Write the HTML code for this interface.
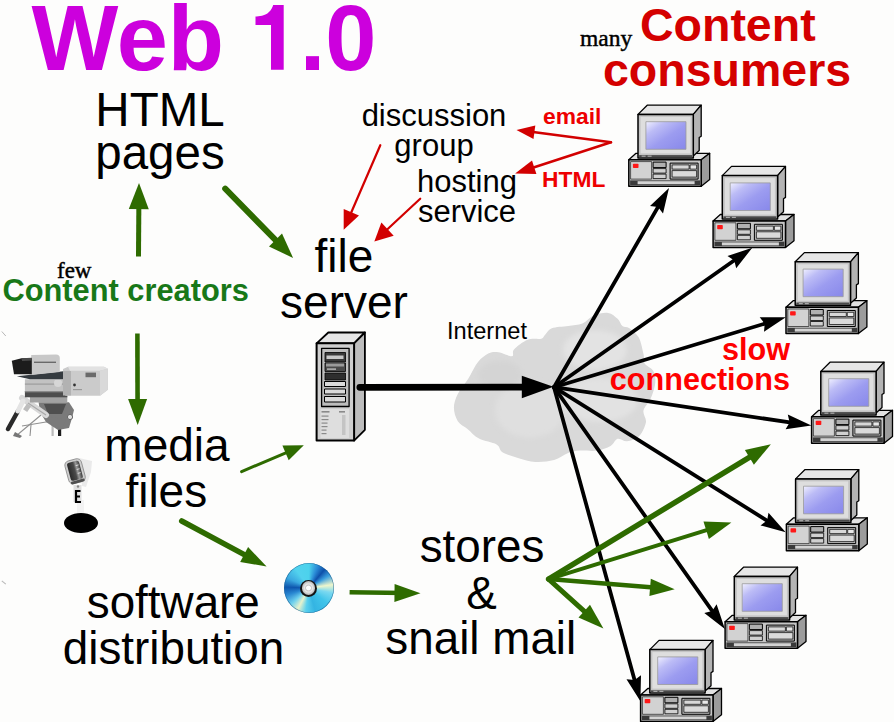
<!DOCTYPE html>
<html><head><meta charset="utf-8">
<style>
html,body{margin:0;padding:0;background:#fdfdfc;}
body{width:894px;height:722px;overflow:hidden;position:relative;}
svg{position:absolute;left:0;top:0;}
text{font-family:"Liberation Sans",sans-serif;}
.s{font-family:"Liberation Serif",serif;}
.b{font-weight:bold;}
</style></head><body>
<svg width="894" height="722" viewBox="0 0 894 722">
<defs>
 <linearGradient id="scr" x1="0" y1="0" x2="1" y2="1">
  <stop offset="0" stop-color="#f0f0ff"/><stop offset="0.25" stop-color="#bcbcf6"/><stop offset="0.55" stop-color="#9c9cf0"/><stop offset="1" stop-color="#8888ea"/>
 </linearGradient>
 <filter id="blur2"><feGaussianBlur stdDeviation="2.5"/></filter>
 <filter id="blur1"><feGaussianBlur stdDeviation="0.6"/></filter>
 <g id="pc" stroke="#000" stroke-linejoin="round">
  <!-- base -->
  <polygon points="0.2,55.2 7.4,48.7 81.1,48.7 72.6,55.2" fill="#e2e2e2" stroke-width="1.3"/>
  <polygon points="72.6,55.2 81.1,48.7 81.1,75 72.6,81.6" fill="#9c9c9c" stroke-width="1.3"/>
  <rect x="0.2" y="55.2" width="72.4" height="26.4" fill="#c6c6c6" stroke-width="1.5"/>
  <rect x="2" y="57" width="21" height="17.5" fill="#d2d2d2" stroke-width="0.6"/>
  <rect x="4.3" y="59.2" width="5.6" height="4.3" rx="0.8" fill="#ff1818" stroke="none"/>
  <rect x="24.5" y="57.5" width="13" height="5.5" fill="#b0b0b0" stroke-width="1"/>
  <rect x="24.5" y="64" width="13" height="4.5" fill="#d0d0d0" stroke-width="0.8"/>
  <rect x="24.5" y="69.5" width="13" height="4.5" fill="#d0d0d0" stroke-width="0.8"/>
  <rect x="41.5" y="58.5" width="28" height="16" fill="#b8b8b8" stroke-width="1"/>
  <rect x="43.5" y="60.3" width="17" height="4.2" fill="#d8d8d8" stroke-width="0.7"/>
  <rect x="61.5" y="60.3" width="6.5" height="4.2" fill="#e8e8e8" stroke-width="0.7"/>
  <rect x="43.5" y="66" width="24.5" height="6.5" fill="#dadada" stroke-width="0.7"/>
  <rect x="1.5" y="75.8" width="70" height="4.6" fill="#3a3a3a" stroke="none"/>
  <rect x="9" y="76.6" width="57" height="3" fill="#d4d4d4" stroke="none"/>
  <!-- monitor -->
  <polygon points="9.4,9.8 18.6,0.6 72.6,0.6 64.7,9.8" fill="#e6e6e6" stroke-width="1.3"/>
  <polygon points="64.7,9.8 72.6,0.6 72.6,31.6 70.6,32.9 70.6,46 64.7,51.3" fill="#b4b4b4" stroke-width="1.3"/>
  <rect x="9.4" y="9.8" width="55.3" height="43.5" fill="#c4c4c4" stroke-width="1.5"/>
  <rect x="12" y="12.3" width="50" height="36.5" fill="#dedede" stroke="none"/>
  <rect x="17.3" y="17.1" width="40.1" height="27.6" fill="url(#scr)" stroke="#9a9a9a" stroke-width="0.8"/>
  <rect x="10.5" y="50.5" width="53" height="2.2" fill="#4a4a4a" stroke="none"/><rect x="13" y="51" width="4" height="1.2" fill="#aaa" stroke="none"/><rect x="19" y="51" width="4" height="1.2" fill="#aaa" stroke="none"/>
 </g>
</defs>

<!-- cloud -->
<g id="cloud">
 <path d="M453.9,407.6 C453.9,403.1 455.4,398.9 457.8,394.0 C460.2,389.1 465.0,383.8 468.4,378.5 C471.8,373.2 474.6,366.2 478.0,362.0 C481.4,357.8 485.4,354.9 488.8,353.3 C492.2,351.7 494.6,351.8 498.5,352.3 C502.4,352.8 509.4,356.7 512.0,356.2 C514.6,355.7 511.4,352.1 514.0,349.4 C516.6,346.6 523.1,341.5 527.6,339.7 C532.1,337.9 538.4,339.4 541.2,338.7 C544.1,338.0 542.9,337.1 544.7,335.3 C546.5,333.6 547.9,329.8 551.8,328.2 C555.7,326.6 563.1,326.7 568.2,325.9 C573.3,325.1 578.1,325.3 582.4,323.5 C586.7,321.7 589.8,317.1 594.1,315.3 C598.4,313.5 604.3,312.3 608.2,312.9 C612.1,313.5 615.2,316.6 617.6,318.8 C620.0,321.0 620.4,324.3 622.4,325.9 C624.4,327.5 626.7,326.2 629.4,328.2 C632.1,330.1 636.4,333.3 638.8,337.6 C641.1,341.9 642.5,349.8 643.5,354.1 C644.5,358.4 643.1,360.8 644.7,363.5 C646.3,366.2 651.2,367.5 653.0,370.6 C654.8,373.8 655.7,377.7 655.3,382.4 C654.9,387.1 652.6,394.1 650.6,398.8 C648.6,403.5 644.3,406.7 643.5,410.6 C642.7,414.5 646.7,418.1 645.9,422.4 C645.1,426.7 641.9,433.4 638.8,436.5 C635.7,439.6 630.6,440.8 627.1,441.2 C623.6,441.6 620.4,438.0 617.6,438.8 C614.9,439.6 614.1,443.9 610.6,445.9 C607.1,447.9 601.6,449.8 596.5,450.6 C591.4,451.4 584.7,450.2 580.0,450.6 C575.3,451.0 572.5,451.3 568.2,452.9 C563.9,454.5 559.6,458.5 554.1,460.0 C548.6,461.5 541.4,462.2 535.4,461.9 C529.4,461.6 523.4,459.6 517.9,458.0 C512.4,456.4 505.9,454.4 502.4,452.2 C498.8,449.9 500.5,446.8 496.6,444.5 C492.7,442.2 483.9,441.2 479.0,438.6 C474.1,436.0 471.0,431.9 467.5,429.0 C464.0,426.1 460.1,424.8 457.8,421.2 C455.5,417.6 453.9,412.1 453.9,407.6Z" fill="#d9d9d9" filter="url(#blur1)"/>
 <g filter="url(#blur2)">
  <ellipse cx="595" cy="350" rx="32" ry="20" fill="#e3e3e3"/>
  <ellipse cx="600" cy="400" rx="38" ry="22" fill="#e2e2e2"/>
  <ellipse cx="530" cy="410" rx="35" ry="28" fill="#dfdfdf"/>
  <ellipse cx="500" cy="375" rx="22" ry="14" fill="#d4d4d4"/>
 </g>
</g>

<!-- server -->
<g id="server" stroke="#000" stroke-linejoin="round">
 <polygon points="316.6,343.3 328.3,332.5 364.9,332.5 354.1,343.3" fill="#e6e6e6" stroke-width="1.8"/>
 <polygon points="354.1,343.3 364.9,332.5 364.9,429.8 354.1,440.6" fill="#bdbdbd" stroke-width="1.8"/>
 <rect x="316.6" y="343.3" width="37.5" height="97.3" fill="#cfcfcf" stroke-width="2"/>
 <rect x="321.6" y="348.3" width="27.5" height="58.2" fill="#bdbdbd" stroke-width="1.3"/>
 <rect x="325" y="352.5" width="20.5" height="9.5" fill="#3a3a3a" stroke-width="0.8"/>
 <rect x="326.5" y="355.5" width="17" height="3.5" fill="#c8c8c8" stroke="none"/>
 <rect x="325" y="363" width="20.5" height="8.5" fill="#4a4a4a" stroke-width="0.8"/>
 <rect x="326" y="363.5" width="18" height="3" fill="#9a9a9a" stroke="none"/><rect x="327" y="368.5" width="9" height="1.2" fill="#cfcfcf" stroke="none"/>
 <rect x="325" y="373" width="20.5" height="7" fill="#2e2e2e" stroke-width="0.8"/>
 <rect x="324.5" y="381.5" width="21" height="5" fill="#dadada" stroke-width="1"/>
 <rect x="324.5" y="389" width="21" height="5" fill="#dadada" stroke-width="1"/>
 <rect x="324.5" y="396.5" width="21" height="5.5" fill="#dadada" stroke-width="1"/>
 <rect x="320.5" y="409" width="28.5" height="29" fill="#dedede" stroke="none"/>
 <g stroke="none" fill="#8a8a8a">
  <rect x="321.5" y="411" width="8" height="1.6"/><rect x="339" y="411" width="6" height="1.6"/>
  <rect x="321.5" y="415.5" width="7" height="1.2"/><rect x="321.5" y="419" width="7" height="1.2"/>
  <rect x="321.5" y="422.5" width="6" height="1.2"/><rect x="321.5" y="426" width="6" height="1.2"/>
  <rect x="321.5" y="429.5" width="5" height="1.2"/><rect x="321.5" y="433" width="5" height="1.2"/>
  <rect x="342" y="415" width="3.5" height="20" fill="#c4c4c4"/>
 </g>
</g>

<!-- camera -->
<g id="camera" filter="url(#blur1)">
 <!-- legs -->
 <g stroke="#909090" stroke-width="1.1" fill="none">
  <line x1="16" y1="436" x2="41" y2="415"/>
  <line x1="30" y1="436" x2="31" y2="425"/>
  <line x1="22" y1="426" x2="52" y2="421"/>
 </g>
 <polygon points="15,432 22,436 20,438 13,436" fill="#777"/>
 <rect x="51.5" y="424" width="2.2" height="12" fill="#bbb"/>
 <rect x="58" y="426" width="3.2" height="10" fill="#1e1e1e"/>
 <!-- tripod head -->
 <polygon points="38.6,402.3 69,402.3 74,410 72,418 69,428 58,430 46,422 40,412" fill="#7a7a7a"/>
 <polygon points="44,404 66,404 62,414 48,414" fill="#505050"/>
 <circle cx="70" cy="417" r="2.6" fill="#e0e0e0" stroke="#666" stroke-width="1"/>
 <path d="M47,416 L66,420 L62,428 L52,426Z" fill="#7a7a7a"/>
 <!-- pan arm -->
 <line x1="22" y1="398" x2="46" y2="415" stroke="#d8d8d8" stroke-width="6" stroke-linecap="round"/>
 <line x1="28" y1="403" x2="46" y2="415" stroke="#a8a8a8" stroke-width="1.2"/>
 <rect x="25" y="404" width="5" height="7" fill="#bdbdbd" transform="rotate(35 27 407)"/>
 <line x1="8" y1="429" x2="18" y2="411" stroke="#2a2a2a" stroke-width="4.5" stroke-linecap="round"/><line x1="18" y1="411" x2="23" y2="401" stroke="#e4e4e4" stroke-width="5" stroke-linecap="round"/>
 <!-- body -->
 <rect x="29.9" y="396" width="37.4" height="6.5" fill="#a2a2a2"/>
 <rect x="24.9" y="379.3" width="42.4" height="13" fill="#c2c2c2"/>
 <rect x="24.9" y="383.5" width="42.4" height="1.2" fill="#9c9c9c"/>
 <rect x="24.9" y="391" width="42.4" height="6.3" fill="#4e4e4e"/>
 <rect x="24.9" y="391" width="42.4" height="1.3" fill="#8a8a8a"/>
 <circle cx="58" cy="383" r="4" fill="#d6d6d6"/>
 <!-- wedge under viewfinder -->
 <polygon points="16.8,376.3 63.5,371.2 64.8,379.3 29.9,379.3" fill="#343a40"/>
 <!-- viewfinder housing -->
 <path d="M31.2,374.9 L31.2,355 L56,354.4 Q59.8,354.4 59.8,358 L59.8,372 Z" fill="#c8c8c8"/>
 <rect x="34" y="361.6" width="22" height="1.4" fill="#6a6a6a"/>
 <!-- viewfinder black -->
 <polygon points="11.8,360.8 21.5,358.3 31.8,358.3 31.8,374.3 14,374.3" fill="#1c1c1c"/>
 <polygon points="21.5,358.3 31.8,357.8 31.8,360.5 22,361" fill="#4a4a4a"/>
 <!-- lens section -->
 <polygon points="63,369 68,366.8 104,366.8 107.9,368.7 107.9,389.7 100,395.7 65.8,395.7 63,394" fill="#cbcbcb"/>
 <polygon points="68,366.8 104,366.8 107.9,368.7 100,370.8 70,370.8" fill="#e2e2e2"/>
 <polygon points="100,370.8 107.9,368.7 107.9,389.7 100,395.7" fill="#d9d9d9"/>
 <rect x="85.5" y="372.6" width="10.5" height="4.6" fill="#6a6a6a"/>
 <rect x="63" y="371" width="8" height="24.5" fill="#b2b2b2"/>
 <circle cx="74.5" cy="385" r="1.4" fill="#333"/>
 <rect x="73" y="389" width="9" height="1.2" fill="#999"/>
</g>


<!-- microphone -->
<g id="mic">
 <path d="M79,458 L92,461 L91,472 L86,487 L82,486Z" fill="#eaeaea"/>
 <rect x="77" y="500" width="7" height="16" fill="#f2f2f2"/>
 <ellipse cx="81" cy="523" rx="17" ry="10" fill="#000"/>
 <defs>
  <linearGradient id="chrome" x1="0" y1="0" x2="1" y2="0">
   <stop offset="0" stop-color="#2a2a2a"/><stop offset="0.5" stop-color="#4a4a4a"/><stop offset="0.7" stop-color="#9a9a9a"/><stop offset="1" stop-color="#3a3a3a"/>
  </linearGradient>
 </defs>
 <g transform="rotate(-15 75 471)">
  <rect x="66.5" y="459.5" width="17" height="23.5" rx="4.5" fill="#cfcfcf" stroke="#8a8a8a" stroke-width="0.8"/>
  <rect x="68.8" y="461.5" width="12.4" height="18.5" rx="2.5" fill="url(#chrome)"/>
  <g stroke="#e8e8e8" stroke-width="0.8">
   <line x1="77" y1="466" x2="80" y2="466"/><line x1="77" y1="470" x2="80" y2="470"/><line x1="77" y1="474" x2="80" y2="474"/>
  </g>
  <rect x="68" y="480.5" width="14" height="2.8" rx="1" fill="#505050"/>
 </g>
 <rect x="73.5" y="485" width="8" height="17" fill="#e0e0e0"/>
 <circle cx="78" cy="486.5" r="1.2" fill="#888"/>
 <path d="M80.5,491 L76,491 L76,502 L81,502 M76,496.5 L80,496.5" stroke="#000" stroke-width="2.2" fill="none"/>
</g>

<line x1="1.8" y1="331.5" x2="5.8" y2="336" stroke="#b8b8b8" stroke-width="1"/><line x1="1.8" y1="580.8" x2="5.8" y2="584.2" stroke="#b8b8b8" stroke-width="1.1"/>
<!-- computers -->
<use href="#pc" x="628.6" y="104.6"/>
<use href="#pc" x="712.9" y="165.8"/>
<use href="#pc" x="785.8" y="252"/>
<use href="#pc" x="811.4" y="361.6"/>
<use href="#pc" x="786.2" y="469.1"/>
<use href="#pc" x="724.9" y="566.6"/>
<use href="#pc" x="640.4" y="639.8"/>

<g id="black">
<line x1="554.0" y1="387.2" x2="662.4" y2="199.4" stroke="#000" stroke-width="3.8" stroke-linecap="round"/><polygon points="669.0,188.0 663.0,213.4 658.0,207.1 650.0,205.9" fill="#000"/>
<line x1="554.0" y1="387.2" x2="741.5" y2="255.3" stroke="#000" stroke-width="3.8" stroke-linecap="round"/><polygon points="752.3,247.7 736.2,268.2 734.3,260.4 727.5,256.0" fill="#000"/>
<line x1="554.0" y1="387.2" x2="773.2" y2="321.1" stroke="#000" stroke-width="3.8" stroke-linecap="round"/><polygon points="785.8,317.3 764.0,331.7 764.7,323.7 759.7,317.3" fill="#000"/>
<line x1="554.0" y1="387.2" x2="798.3" y2="423.7" stroke="#000" stroke-width="3.8" stroke-linecap="round"/><polygon points="811.4,425.6 785.6,429.3 789.6,422.4 787.8,414.5" fill="#000"/>
<line x1="554.0" y1="387.2" x2="774.5" y2="525.3" stroke="#000" stroke-width="3.8" stroke-linecap="round"/><polygon points="785.7,532.3 760.5,525.4 767.1,520.6 768.5,512.7" fill="#000"/>
<line x1="554.0" y1="387.2" x2="717.3" y2="618.2" stroke="#000" stroke-width="3.8" stroke-linecap="round"/><polygon points="724.9,629.0 704.3,612.9 712.2,611.0 716.6,604.3" fill="#000"/>
<line x1="554.0" y1="387.2" x2="636.9" y2="688.6" stroke="#000" stroke-width="3.8" stroke-linecap="round"/><polygon points="640.4,701.3 626.5,679.2 634.6,680.1 641.0,675.2" fill="#000"/>
<line x1="359.8" y1="387.3" x2="530" y2="387.2" stroke="#000" stroke-width="6.7" stroke-linecap="round"/><polygon points="553.5,386.8 521.8,375.8 521.8,398.3" fill="#000"/>
</g>
<g id="green">
<line x1="225.2" y1="188.7" x2="282.5" y2="247.2" stroke="#2e6b00" stroke-width="6" stroke-linecap="round"/><polygon points="293.1,258.0 269.0,246.4 282.0,233.6" fill="#2e6b00"/>
<line x1="138.5" y1="256.5" x2="138.9" y2="198.7" stroke="#2e6b00" stroke-width="5" stroke-linecap="butt"/><polygon points="139.0,183.1 148.8,209.2 128.8,209.0" fill="#2e6b00"/>
<line x1="137.4" y1="333.4" x2="137.6" y2="409.4" stroke="#2e6b00" stroke-width="4.6" stroke-linecap="butt"/><polygon points="137.7,425.0 128.1,399.0 147.1,399.0" fill="#2e6b00"/>
<line x1="241.6" y1="471.6" x2="292.9" y2="449.8" stroke="#2e6b00" stroke-width="3" stroke-linecap="round"/><polygon points="303.8,445.2 288.7,460.3 282.4,445.6" fill="#2e6b00"/>
<line x1="181.7" y1="521.0" x2="253.1" y2="559.3" stroke="#2e6b00" stroke-width="5.5" stroke-linecap="round"/><polygon points="266.6,566.5 240.2,561.9 248.1,547.1" fill="#2e6b00"/>
<line x1="349.6" y1="592.3" x2="404.9" y2="593.0" stroke="#2e6b00" stroke-width="4.5" stroke-linecap="butt"/><polygon points="420.5,593.2 394.4,601.9 394.6,583.9" fill="#2e6b00"/>
<line x1="548.6" y1="579.1" x2="591.9" y2="618.1" stroke="#2e6b00" stroke-width="5" stroke-linecap="round"/><polygon points="603.4,628.5 578.5,617.6 590.0,604.8" fill="#2e6b00"/>
<line x1="548.6" y1="579.1" x2="659.9" y2="588.1" stroke="#2e6b00" stroke-width="4.5" stroke-linecap="round"/><polygon points="674.7,589.3 649.4,595.9 650.8,578.7" fill="#2e6b00"/>
<line x1="548.6" y1="579.1" x2="716.3" y2="527.1" stroke="#2e6b00" stroke-width="4" stroke-linecap="round"/><polygon points="731.4,522.4 708.9,539.0 703.5,521.4" fill="#2e6b00"/>
<line x1="548.6" y1="579.1" x2="758.0" y2="452.1" stroke="#2e6b00" stroke-width="5.5" stroke-linecap="round"/><polygon points="770.9,444.3 753.9,464.8 744.9,449.9" fill="#2e6b00"/>
</g>
<g id="red">
<line x1="380.3" y1="145.2" x2="348.3" y2="219.2" stroke="#d20000" stroke-width="2.2" stroke-linecap="round"/><polygon points="343.7,229.8 343.7,208.9 359.0,215.5" fill="#d20000"/>
<line x1="420.2" y1="198.7" x2="382.3" y2="234.0" stroke="#d20000" stroke-width="2.2" stroke-linecap="round"/><polygon points="374.3,241.4 381.4,222.5 393.7,235.7" fill="#d20000"/>
<line x1="611.0" y1="142.3" x2="527.3" y2="131.3" stroke="#d20000" stroke-width="2.5" stroke-linecap="round"/><polygon points="516.5,129.9 535.3,125.4 533.5,139.1" fill="#d20000"/>
<line x1="611.0" y1="142.3" x2="526.6" y2="169.8" stroke="#d20000" stroke-width="2.5" stroke-linecap="round"/><polygon points="515.1,173.5 532.0,160.6 536.4,174.0" fill="#d20000"/>
</g>


<!-- TEXT -->
<g id="t-title" fill="#cc00dd"><text x="31.5" y="70" class="b" font-size="92">Web</text><path d="M271,69.8 H283.7 V5 H273.2 C271.5,10.5 268,14.2 262,15.8 C259.5,16.3 257,16.5 255.5,16.6 V24.9 H271 Z"/><text x="299.8" y="70" class="b" font-size="92">.0</text></g>
<g id="t-html" fill="#000" font-size="47.5" text-anchor="middle">
 <text x="160" y="125.6">HTML</text>
 <text x="160" y="168.6">pages</text>
</g>
<g id="t-disc" fill="#000" font-size="31" text-anchor="middle">
 <text x="434" y="125.8">discussion</text>
 <text x="434" y="156.4">group</text>
</g>
<g id="t-host" fill="#000" font-size="31" text-anchor="middle">
 <text x="467" y="191.7">hosting</text>
 <text x="467" y="221.9">service</text>
</g>
<g id="t-email" class="b" fill="#ee0000" font-size="22.8">
 <text x="543" y="124.1">email</text>
 <text x="542" y="186.6">HTML</text>
</g>
<g id="t-many"><text x="580" y="45.6" class="s" font-size="23.5" fill="#000" stroke="#000" stroke-width="0.45">many</text></g>
<g id="t-cons" class="b" fill="#d40000" font-size="46.5">
 <text x="640" y="40.5">Content</text>
 <text x="603" y="85.8">consumers</text>
</g>
<g id="t-file" fill="#000" font-size="46" text-anchor="middle">
 <text x="344" y="271.9">file</text>
 <text x="344" y="317.5">server</text>
</g>
<g id="t-few"><text x="57" y="278.3" class="s" font-size="23" fill="#000" stroke="#000" stroke-width="0.45">few</text></g>
<g id="t-creat"><text x="2.5" y="301" class="b" font-size="30.8" fill="#187818">Content creators</text></g>
<g id="t-inet"><text x="447" y="338.9" font-size="23.6" fill="#000">Internet</text></g>
<g id="t-slow" class="b" fill="#ff0000" font-size="30.6" text-anchor="end">
 <text x="790" y="360.2">slow</text>
 <text x="790" y="390.4">connections</text>
</g>
<g id="t-media" fill="#000" font-size="46" text-anchor="middle">
 <text x="167" y="461.1">media</text>
 <text x="166.3" y="507.3">files</text>
</g>
<g id="t-soft" fill="#000" font-size="45.8" text-anchor="middle">
 <text x="173.3" y="618">software</text>
 <text x="173.5" y="663.6">distribution</text>
</g>
<g id="t-stores" fill="#000" font-size="45.8" text-anchor="middle">
 <text x="482" y="561.8">stores</text>
 <text x="481.5" y="608.6">&amp;</text>
 <text x="480.8" y="654.1">snail mail</text>
</g>
</svg>
<div id="cd" style="position:absolute;left:284px;top:563px;width:50px;height:50px;border-radius:50%;background:conic-gradient(from 0deg,#4cd2ec 0deg,#2a8ad6 22deg,#0e50aa 40deg,#3a9ede 58deg,#eef6cc 82deg,#7ad8f0 102deg,#40c4ea 130deg,#34b4e2 165deg,#5ad0ee 188deg,#e8f2cc 208deg,#70d2ee 228deg,#2a88d2 252deg,#0e56ae 272deg,#3aa8e0 295deg,#52d2ee 325deg,#4cd2ec 360deg);box-shadow:0 0 0 0.6px rgba(20,90,140,0.7) inset;"></div>
<div style="position:absolute;left:300px;top:579.5px;width:17px;height:17px;border-radius:50%;background:#151515;"></div>
<div style="position:absolute;left:301.6px;top:581.1px;width:13.8px;height:13.8px;border-radius:50%;background:radial-gradient(circle,#ffffff 0 2px,#c8c8c8 2.8px,#e8e8e8 4px,#b4b4b4 6.9px);"></div>
</body></html>
